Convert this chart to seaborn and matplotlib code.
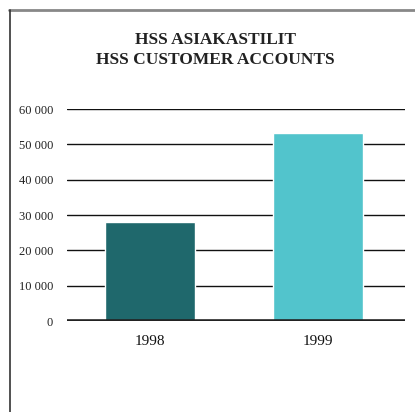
import matplotlib
matplotlib.use("Agg")
import matplotlib.pyplot as plt
from matplotlib.lines import Line2D
import seaborn as sns
import pandas as pd

years = ["1998", "1999"]
accounts = [28000, 53300]
colors = ["#1F686C", "#52C4CC"]
yticks = [0, 10000, 20000, 30000, 40000, 50000, 60000]
ytick_labels = ["0", "10 000", "20 000", "30 000", "40 000", "50 000", "60 000"]
title = "HSS ASIAKASTILIT\nHSS CUSTOMER ACCOUNTS"

sns.set_theme(style="white")
plt.rcParams["font.family"] = ["Liberation Serif", "DejaVu Serif"]

df = pd.DataFrame({"year": years, "accounts": accounts})

fig = plt.figure(figsize=(4.15, 4.12), dpi=100)
W, H = 415, 412
ax = fig.add_axes([67 / W, 1 - 321 / H, (405 - 67) / W, (321 - 109) / H])

sns.barplot(data=df, x="year", y="accounts", hue="year", palette=colors,
            width=0.536, saturation=1, legend=False, ax=ax)

ax.set_ylim(0, 60000)
ax.set_xlim(-0.494, 1.518)
ax.set_yticks(yticks)
ax.set_yticklabels(ytick_labels)
for y in yticks[1:]:
    ax.axhline(y, color="#111111", lw=1.0, zorder=0)
ax.axhline(0, color="#222222", lw=2.6, zorder=5)
for s in ax.spines.values():
    s.set_visible(False)
ax.grid(False)
ax.set_xlabel("")
ax.set_ylabel("")
ax.tick_params(axis="y", length=0, pad=10, labelsize=9, labelcolor="#222222")
ax.tick_params(axis="x", length=0, pad=10, labelsize=11, labelcolor="#111111")

fig.text(215 / W, 1 - 50 / H, title, ha="center", va="center", fontsize=12.5,
         fontweight="bold", color="#222222", linespacing=1.4)

# frame lines
fig.add_artist(Line2D([9 / W, 1.0], [1 - 10 / H, 1 - 10 / H], color="#888888", lw=2.0,
                      transform=fig.transFigure))
fig.add_artist(Line2D([10 / W, 10 / W], [1 - 10 / H, 0], color="#333333", lw=1.2,
                      transform=fig.transFigure))

fig.savefig("out.png", dpi=100)
